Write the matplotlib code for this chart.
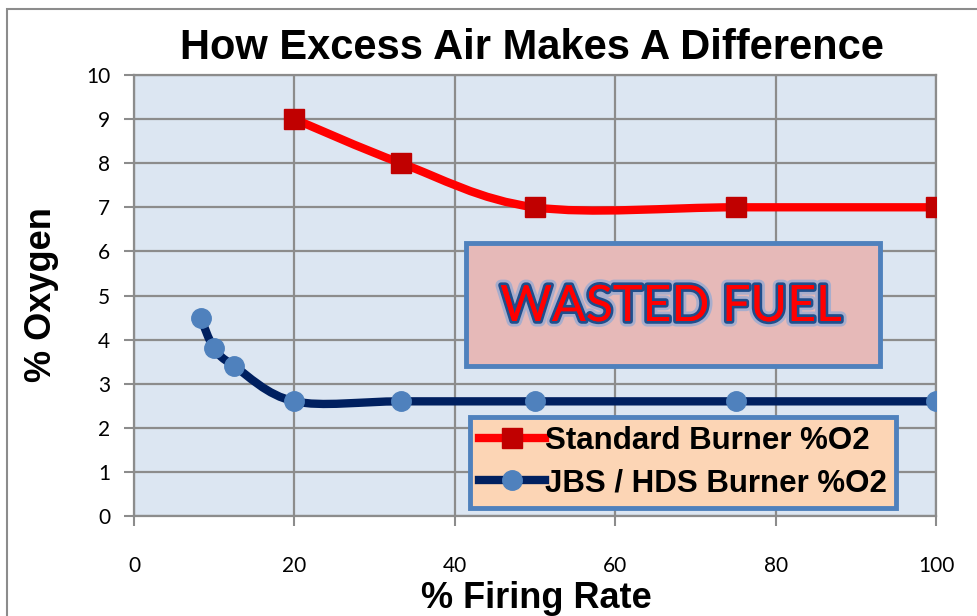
import numpy as np
import matplotlib
matplotlib.use("Agg")
import matplotlib.pyplot as plt
from matplotlib.path import Path
from matplotlib.patches import PathPatch, Rectangle
from matplotlib.lines import Line2D
import matplotlib.patheffects as pe

std_x = [20, 33.3, 50, 75, 100]
std_y = [9, 8, 7, 7, 7]
jbs_x = [8.3, 10, 12.5, 20, 33.3, 50, 75, 100]
jbs_y = [4.5, 3.8, 3.4, 2.6, 2.6, 2.6, 2.6, 2.6]
x_ticks = [0, 20, 40, 60, 80, 100]
y_ticks = list(range(0, 11))

W, H = 978, 616
fig = plt.figure(figsize=(W / 100, H / 100), dpi=100)
ax = fig.add_axes([134 / W, 100 / H, 802 / W, 441 / H])

# chart frame
fig.patches.append(Rectangle((7 / W, -0.1), 1.2, 1 - 9 / H + 0.1, transform=fig.transFigure,
                             fill=False, edgecolor='#8c8c8c', linewidth=1.5))

ax.set_facecolor('#dce6f2')
ax.set_xlim(0, 100)
ax.set_ylim(0, 10)
ax.set_xticks(x_ticks)
ax.set_yticks(y_ticks)
ax.grid(True, color='#8c8c8c', linewidth=1.6)
ax.set_axisbelow(True)
for s in ax.spines.values():
    s.set_color('#8c8c8c')
    s.set_linewidth(1.6)
ax.tick_params(axis='both', direction='out', length=7, width=1.5, color='#8c8c8c')
ax.tick_params(axis='x', pad=22)
ax.tick_params(axis='y', pad=10)
for lab in ax.get_xticklabels() + ax.get_yticklabels():
    lab.set_fontfamily('Lato')
    lab.set_fontsize(15)


def smooth(xs, ys):
    # excel style smoothing (bezier through points), done in pixel-ish space
    sx, sy = 8.02, 44.1
    p = np.column_stack([np.array(xs) * sx, np.array(ys) * sy])
    n = len(p)
    verts = [p[0]]
    codes = [Path.MOVETO]
    for i in range(n - 1):
        p0 = p[i - 1] if i > 0 else p[i]
        p3 = p[i + 2] if i + 2 < n else p[i + 1]
        c1 = p[i] + (p[i + 1] - p0) / 6
        c2 = p[i + 1] - (p3 - p[i]) / 6
        verts += [c1, c2, p[i + 1]]
        codes += [Path.CURVE4] * 3
    v = np.array(verts)
    v[:, 0] /= sx
    v[:, 1] /= sy
    return Path(v, codes)


ax.add_patch(PathPatch(smooth(std_x, std_y), fill=False, edgecolor='#ff0000',
                       linewidth=6, capstyle='round', zorder=3))
ax.add_patch(PathPatch(smooth(jbs_x, jbs_y), fill=False, edgecolor='#002060',
                       linewidth=6, capstyle='round', zorder=3))
ax.plot(std_x, std_y, linestyle='none', marker='s', markersize=14,
        color='#c00000', zorder=4)
ax.plot(jbs_x, jbs_y, linestyle='none', marker='o', markersize=14,
        color='#4f81bd', zorder=4)

fig.text(532 / W, 1 - 48 / H, 'How Excess Air Makes A Difference', ha='center', va='center',
         fontsize=30, fontweight='bold', fontfamily='Liberation Sans')
fig.text(536 / W, 1 - 598 / H, '% Firing Rate', ha='center', va='center',
         fontsize=26, fontweight='bold', fontfamily='Liberation Sans')
fig.text(42 / W, 1 - 295 / H, '% Oxygen', ha='center', va='center', rotation=90,
         fontsize=26, fontweight='bold', fontfamily='Liberation Sans')

# wasted fuel box
box = Rectangle((466 / W, 1 - 366 / H), 414 / W, 123 / H, transform=fig.transFigure,
                facecolor='#e6b9b8', edgecolor='#4f81bd', linewidth=3.5, zorder=5)
fig.patches.append(box)
fig.text(671 / W, 1 - 307 / H, 'WASTED FUEL', ha='center', va='center', fontsize=36,
         fontweight='normal', fontfamily='Lato', color='#ff0000', zorder=6,
         path_effects=[pe.withStroke(linewidth=8, foreground='#7fa6da', alpha=0.6),
                       pe.withStroke(linewidth=4, foreground='#1f4e8c'),
                       pe.Normal()])

handles = [Line2D([], [], color='#ff0000', linewidth=6, marker='s', markersize=14,
                  markerfacecolor='#c00000', markeredgecolor='#c00000'),
           Line2D([], [], color='#002060', linewidth=6, marker='o', markersize=14,
                  markerfacecolor='#4f81bd', markeredgecolor='#4f81bd')]
leg = fig.legend(handles, ['Standard Burner %O2', 'JBS / HDS Burner %O2'],
                 loc='upper left', bbox_to_anchor=(470 / W, 1 - 417 / H),
                 bbox_transform=fig.transFigure, borderaxespad=0, fancybox=False,
                 handlelength=2.1, handletextpad=0.0, borderpad=0.3, labelspacing=0.38,
                 prop={'family': 'Liberation Sans', 'weight': 'bold', 'size': 22.5})
fr = leg.get_frame()
fr.set_facecolor('#fcd5b5')
fr.set_edgecolor('#4f81bd')
fr.set_linewidth(3.5)
fr.set_alpha(1)

fig.savefig('out.png', dpi=100)
